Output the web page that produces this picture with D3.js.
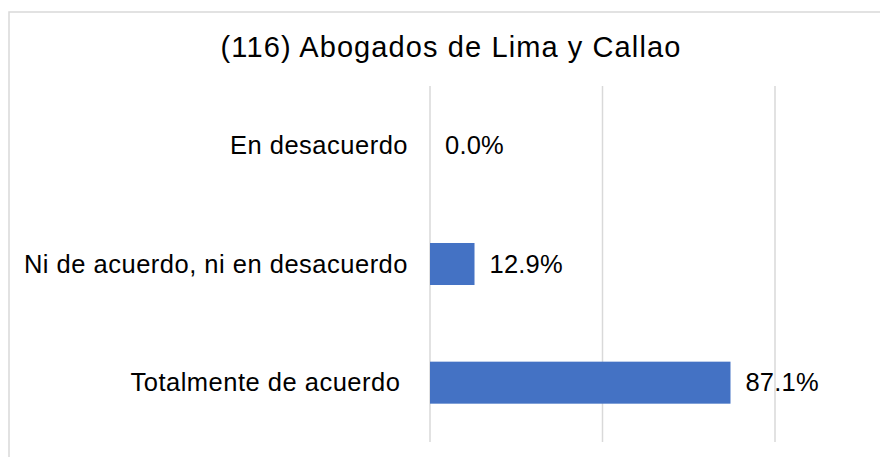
<!DOCTYPE html>
<html>
<head>
<meta charset="utf-8">
<script src="https://cdn.jsdelivr.net/npm/d3@7"></script>
<style>
  body { margin: 0; background: #fff; }
  svg text { font-family: "Liberation Sans", Arial, sans-serif; fill: #000; }
</style>
</head>
<body>
<div id="chart"></div>
<script>
// data
const chartTitle = "(116) Abogados de Lima y Callao";
const categories = ["En desacuerdo", "Ni de acuerdo, ni en desacuerdo", "Totalmente de acuerdo "];
const values = [0.0, 12.9, 87.1];
const gridTicks = [0, 50, 100];

const W = 880, H = 457;
const margin = {top: 86, right: 105, bottom: 15, left: 430};

const svg = d3.select("#chart").append("svg")
    .attr("width", W)
    .attr("height", H);

// chart frame (runs off the right and bottom of the picture)
svg.append("rect")
    .attr("x", 9).attr("y", 12)
    .attr("width", W + 20).attr("height", H + 20)
    .attr("fill", "#fff")
    .attr("stroke", "#d9d9d9")
    .attr("stroke-width", 1.5);

const x = d3.scaleLinear().domain([0, 100]).range([margin.left, W - margin.right]);
const y = d3.scaleBand().domain(categories)
    .range([margin.top, H - margin.bottom])
    .paddingInner(0.646).paddingOuter(0.323);

// vertical gridlines
svg.append("g").selectAll("line")
    .data(gridTicks)
    .join("line")
    .attr("x1", d => x(d)).attr("x2", d => x(d))
    .attr("y1", margin.top).attr("y2", H - margin.bottom)
    .attr("stroke", "#d9d9d9")
    .attr("stroke-width", 1.5);

// bars
svg.append("g").selectAll("rect")
    .data(values)
    .join("rect")
    .attr("x", x(0))
    .attr("y", (d, i) => y(categories[i]))
    .attr("width", d => x(d) - x(0))
    .attr("height", y.bandwidth())
    .attr("fill", "#4472c4");

// value labels
svg.append("g").selectAll("text")
    .data(values)
    .join("text")
    .attr("x", d => x(d) + 15)
    .attr("y", (d, i) => y(categories[i]) + y.bandwidth() / 2 + 8.5)
    .attr("font-size", 25.5)
    .attr("letter-spacing", 0.2)
    .text(d => d.toFixed(1) + "%");

// category labels
svg.append("g").selectAll("text")
    .data(categories)
    .join("text")
    .attr("x", 408)
    .attr("y", d => y(d) + y.bandwidth() / 2 + 8.5)
    .attr("text-anchor", "end")
    .attr("font-size", 25.5)
    .attr("letter-spacing", 0.5)
    .style("white-space", "pre")
    .text(d => d);

// title
svg.append("text")
    .attr("x", 451)
    .attr("y", 56.5)
    .attr("text-anchor", "middle")
    .attr("font-size", 29)
    .attr("letter-spacing", 1.1)
    .text(chartTitle);
</script>
</body>
</html>
